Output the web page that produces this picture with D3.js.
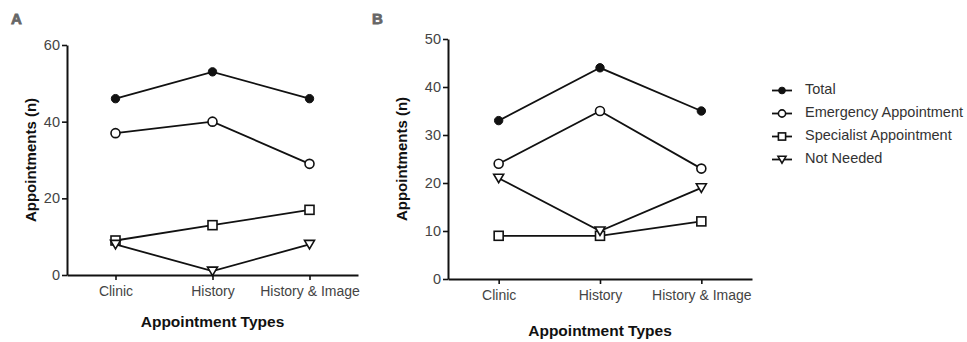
<!DOCTYPE html>
<html>
<head>
<meta charset="utf-8">
<script src="https://cdn.jsdelivr.net/npm/d3@7"></script>
<style>
  body { margin: 0; background: #fff; }
  svg text { font-family: "Liberation Sans", Arial, sans-serif; }
</style>
</head>
<body>
<div id="chart"></div>
<script>
// Data
const categories = ["Clinic", "History", "History & Image"];
const seriesNames = ["Total", "Emergency Appointment", "Specialist Appointment", "Not Needed"];
const symbols = ["dot", "circle", "square", "triangle"];

const panelAValues = [
  [46, 53, 46],
  [37, 40, 29],
  [9, 13, 17],
  [8, 1, 8]
];
const panelBValues = [
  [33, 44, 35],
  [24, 35, 23],
  [9, 9, 12],
  [21, 10, 19]
];
const panelATicks = [0, 20, 40, 60];
const panelBTicks = [0, 10, 20, 30, 40, 50];

const svg = d3.select("#chart").append("svg")
  .attr("width", 967)
  .attr("height", 342);

function drawMarker(g, type, x, y, k) {
  k = k || 1;
  if (type === "dot") {
    g.append("circle").attr("cx", x).attr("cy", y).attr("r", 4.2 * k)
      .attr("fill", "#111").attr("stroke", "#111");
  } else if (type === "circle") {
    g.append("circle").attr("cx", x).attr("cy", y).attr("r", 4.5 * k)
      .attr("fill", "#fff").attr("stroke", "#111").attr("stroke-width", 1.6);
  } else if (type === "square") {
    g.append("rect").attr("x", x - 4.5 * k).attr("y", y - 4.5 * k)
      .attr("width", 9 * k).attr("height", 9 * k)
      .attr("fill", "#fff").attr("stroke", "#111").attr("stroke-width", 1.6);
  } else {
    g.append("path")
      .attr("d", `M${x - 5 * k},${y - 4 * k} L${x + 5 * k},${y - 4 * k} L${x},${y + 4.5 * k} Z`)
      .attr("fill", "#fff").attr("stroke", "#111").attr("stroke-width", 1.6);
  }
}

function drawPanel(opts) {
  const g = svg.append("g");

  const x = d3.scalePoint()
    .domain(categories)
    .range([opts.left, opts.right])
    .padding(0.5);

  const y = d3.scaleLinear()
    .domain([0, d3.max(opts.ticks)])
    .range([opts.bottom, opts.top]);

  // Y axis
  const yAxis = g.append("g")
    .attr("transform", `translate(${opts.left},0)`)
    .call(d3.axisLeft(y).tickValues(opts.ticks).tickSize(5).tickPadding(2).tickSizeOuter(0));
  yAxis.select(".domain").attr("stroke", "#111").attr("stroke-width", 2);
  yAxis.selectAll(".tick line").attr("stroke", "#111").attr("stroke-width", 1.6);
  yAxis.selectAll("text").attr("font-size", 14.5).attr("fill", "#444")
    .style("font-family", "Liberation Sans, Arial, sans-serif");

  // X axis
  const xAxis = g.append("g")
    .attr("transform", `translate(0,${opts.bottom})`)
    .call(d3.axisBottom(x).tickSize(5).tickPadding(6).tickSizeOuter(0));
  xAxis.select(".domain").attr("stroke", "#111").attr("stroke-width", 2);
  xAxis.selectAll(".tick line").attr("stroke", "#111").attr("stroke-width", 1.6);
  xAxis.selectAll("text").attr("font-size", 14).attr("fill", "#444")
    .style("font-family", "Liberation Sans, Arial, sans-serif");

  // Series lines and markers
  const line = d3.line()
    .x((d, i) => x(categories[i]))
    .y(d => y(d));

  opts.values.forEach(vals => {
    g.append("path")
      .attr("d", line(vals))
      .attr("fill", "none")
      .attr("stroke", "#111")
      .attr("stroke-width", 1.8);
  });
  opts.values.forEach((vals, s) => {
    vals.forEach((v, i) => drawMarker(g, symbols[s], x(categories[i]), y(v)));
  });

  // Axis titles
  g.append("text")
    .attr("transform", `translate(${opts.yTitleX},${(opts.top + opts.bottom) / 2}) rotate(-90)`)
    .attr("text-anchor", "middle")
    .attr("dominant-baseline", "middle")
    .attr("font-size", 15)
    .attr("font-weight", "bold")
    .attr("fill", "#111")
    .text("Appointments (n)");

  g.append("text")
    .attr("x", x(categories[1]))
    .attr("y", opts.xTitleY)
    .attr("text-anchor", "middle")
    .attr("dominant-baseline", "middle")
    .attr("font-size", 15.5)
    .attr("font-weight", "bold")
    .attr("fill", "#111")
    .text("Appointment Types");

  // Panel letter
  g.append("text")
    .attr("x", opts.labelX)
    .attr("y", 20)
    .attr("dominant-baseline", "middle")
    .attr("font-size", 15)
    .attr("font-weight", "900")
    .attr("fill", "#666")
    .attr("stroke", "#666")
    .attr("stroke-width", 0.8)
    .text(opts.label);
}

drawPanel({
  label: "A", labelX: 11,
  values: panelAValues, ticks: panelATicks,
  left: 67, right: 358, top: 45, bottom: 275,
  yTitleX: 32, xTitleY: 323
});

drawPanel({
  label: "B", labelX: 372,
  values: panelBValues, ticks: panelBTicks,
  left: 448, right: 752, top: 39, bottom: 279,
  yTitleX: 403, xTitleY: 332
});

// Legend
const legend = svg.append("g")
  .selectAll("g")
  .data(seriesNames)
  .enter().append("g")
  .attr("transform", (d, i) => `translate(772,${90.5 + i * 23})`);

legend.append("line")
  .attr("x1", 0).attr("x2", 20)
  .attr("stroke", "#111").attr("stroke-width", 1.8);

legend.each(function(d, i) {
  drawMarker(d3.select(this), symbols[i], 10, 0, 0.8);
});

legend.append("text")
  .attr("x", 33)
  .attr("dominant-baseline", "middle")
  .attr("font-size", 14.5)
  .attr("fill", "#333")
  .text(d => d);
</script>
</body>
</html>
